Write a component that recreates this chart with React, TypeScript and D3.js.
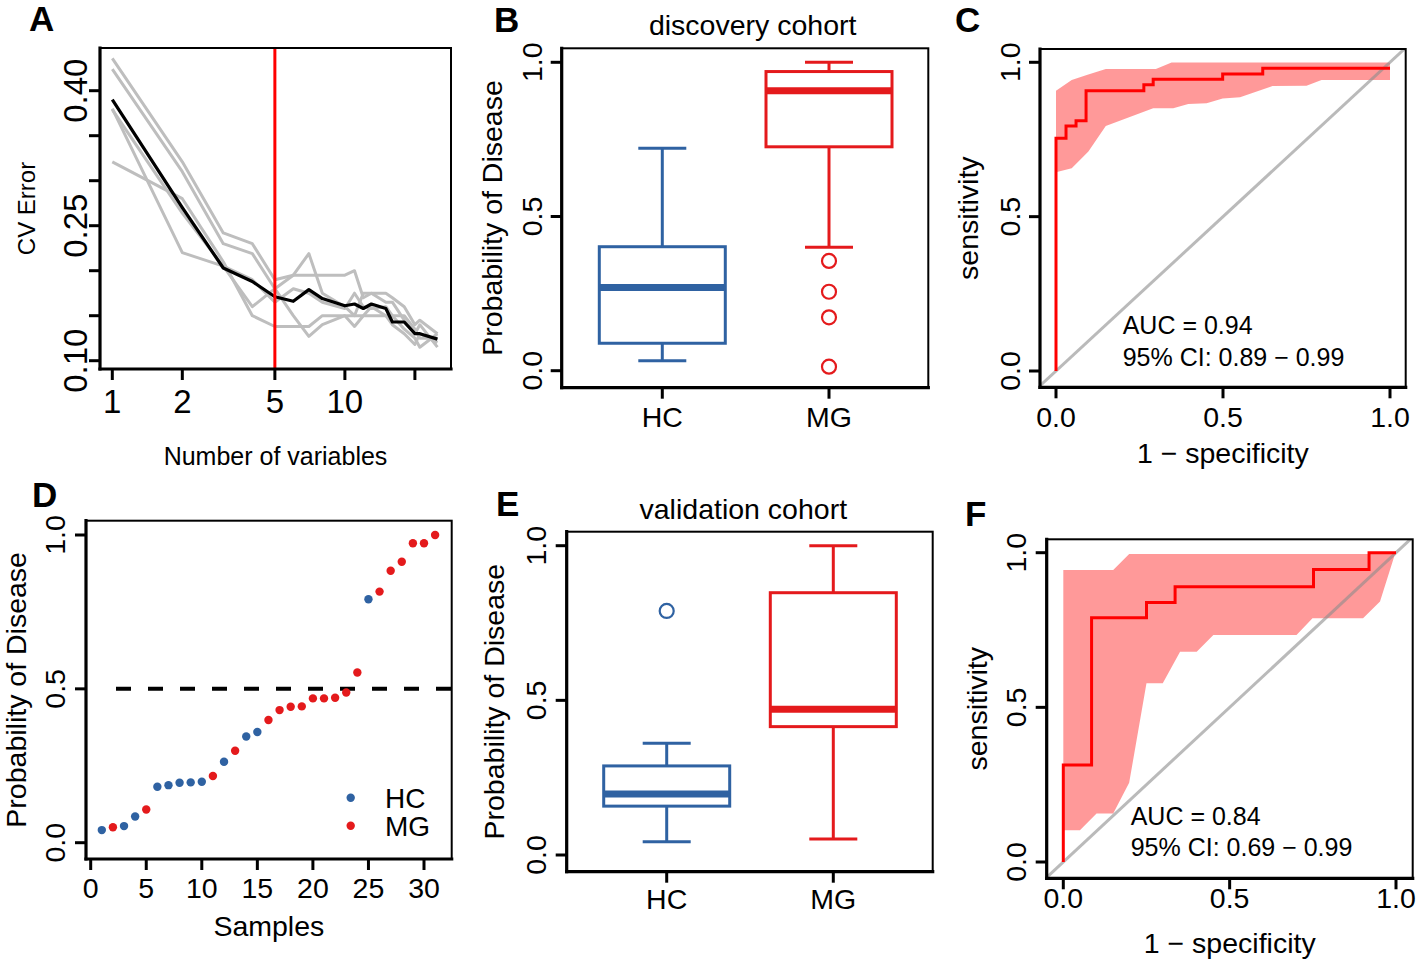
import React from "react";
import * as d3 from "d3";

// ---------- Panel A: CV error vs number of variables ----------
const nVars = [1, 2, 3, 4, 5, 6, 7, 8, 10, 11, 12, 13, 15, 16, 18, 20, 21, 25];
const cvErrorMean = [0.39, 0.27, 0.203, 0.188, 0.171, 0.166, 0.179, 0.169, 0.161, 0.163, 0.158, 0.163, 0.158, 0.143, 0.143, 0.13, 0.13, 0.124];
const cvRep1 = [0.436, 0.321, 0.242, 0.23, 0.19, 0.195, 0.195, 0.195, 0.195, 0.2, 0.17, 0.175, 0.175, 0.17, 0.16, 0.14, 0.145, 0.13];
const cvRep2 = [0.424, 0.31, 0.23, 0.219, 0.18, 0.15, 0.127, 0.14, 0.15, 0.138, 0.15, 0.15, 0.15, 0.15, 0.135, 0.125, 0.115, 0.13];
const cvRep3 = [0.379, 0.264, 0.205, 0.16, 0.18, 0.195, 0.219, 0.175, 0.16, 0.15, 0.175, 0.175, 0.165, 0.165, 0.145, 0.13, 0.14, 0.115];
const cvRep4 = [0.321, 0.28, 0.21, 0.15, 0.138, 0.138, 0.138, 0.15, 0.15, 0.15, 0.15, 0.16, 0.15, 0.14, 0.13, 0.118, 0.13, 0.12];
const cvRep5 = [0.38, 0.22, 0.205, 0.19, 0.165, 0.18, 0.175, 0.165, 0.158, 0.175, 0.16, 0.158, 0.16, 0.15, 0.15, 0.135, 0.125, 0.125];
const selectedVars = 5;
const aYTicks = [0.1, 0.15, 0.2, 0.25, 0.3, 0.35, 0.4];
const aYLabels = ["0.10", "", "", "0.25", "", "", "0.40"];
const aXTicks = [1, 2, 5, 10, 20];
const aXLabels = ["1", "2", "5", "10", ""];

// ---------- Panel B: discovery cohort boxplot ----------
const groups = ["HC", "MG"];
const bLower = [0.032, 0.4];
const bQ1 = [0.089, 0.726];
const bMedian = [0.27, 0.908];
const bQ3 = [0.402, 0.97];
const bUpper = [0.721, 1.0];
const bOutliers = [[], [0.356, 0.256, 0.173, 0.013]];

// ---------- Panel C: discovery ROC ----------
const cFpr = [0, 0, 0.03, 0.06, 0.09, 0.263, 0.291, 0.499, 0.619, 1.0];
const cTpr = [0, 0.754, 0.794, 0.811, 0.908, 0.927, 0.945, 0.962, 0.981, 0.981];
const cCiUpX = [0, 0.047, 0.092, 0.149, 0.299, 0.346, 1.0];
const cCiUpY = [0.908, 0.943, 0.959, 0.978, 0.978, 0.999, 0.999];
const cCiLoX = [0, 0.047, 0.097, 0.149, 0.291, 0.351, 0.396, 0.451, 0.499, 0.551, 0.648, 0.75, 0.795, 1.0];
const cCiLoY = [0.644, 0.657, 0.711, 0.794, 0.851, 0.851, 0.865, 0.867, 0.883, 0.887, 0.923, 0.924, 0.943, 0.943];
const cAuc = "AUC = 0.94";
const cCi = "95% CI: 0.89 \u2212 0.99";

// ---------- Panel D: validation samples ----------
const dProb = [0.041, 0.05, 0.054, 0.085, 0.108, 0.182, 0.187, 0.195, 0.196, 0.198, 0.217, 0.263, 0.299, 0.345, 0.36, 0.399, 0.431, 0.442, 0.443, 0.469, 0.469, 0.471, 0.488, 0.553, 0.791, 0.816, 0.884, 0.913, 0.973, 0.973, 1.0];
const dGroup = ["HC", "MG", "HC", "HC", "MG", "HC", "HC", "HC", "HC", "HC", "MG", "HC", "MG", "HC", "HC", "MG", "MG", "MG", "MG", "MG", "MG", "MG", "MG", "MG", "HC", "MG", "MG", "MG", "MG", "MG", "MG"];
const dXTicks = [0, 5, 10, 15, 20, 25, 30];
const probTicks = [0, 0.5, 1];
const probLabels = ["0.0", "0.5", "1.0"];
const threshold = 0.5;

// ---------- Panel E: validation cohort boxplot ----------
const eLower = [0.043, 0.052];
const eQ1 = [0.158, 0.415];
const eMedian = [0.197, 0.471];
const eQ3 = [0.288, 0.848];
const eUpper = [0.361, 1.0];
const eOutliers = [[0.789], []];

// ---------- Panel F: validation ROC ----------
const fFpr = [0, 0, 0.085, 0.25, 0.336, 0.752, 0.919, 1.0];
const fTpr = [0, 0.314, 0.79, 0.839, 0.89, 0.946, 1.0, 1.0];
const fCiUpX = [0, 0.15, 0.198, 1.0];
const fCiUpY = [0.944, 0.944, 0.996, 0.996];
const fCiLoX = [0, 0.05, 0.1, 0.15, 0.198, 0.25, 0.299, 0.351, 0.401, 0.451, 0.701, 0.749, 0.901, 0.952, 0.997];
const fCiLoY = [0.103, 0.103, 0.157, 0.157, 0.256, 0.578, 0.578, 0.68, 0.68, 0.734, 0.734, 0.788, 0.788, 0.842, 0.996];
const fAuc = "AUC = 0.84";
const fCi = "95% CI: 0.69 \u2212 0.99";

// ---------- styling ----------
const FONT = "'Liberation Sans', Arial, Helvetica, sans-serif";
const BLUE = "#2F62A2";
const RED = "#E41A1C";
const ROCRED = "#FF0000";
const FS = 28.5;
const TICK = 11;

type Box = { x0: number; x1: number; y0: number; y1: number };

function Frame({ b }: { b: Box }) {
  return (
    <g>
      <rect x={b.x0} y={b.y0} width={b.x1 - b.x0} height={b.y1 - b.y0} fill="none" stroke="#000" strokeWidth={2} />
      <line x1={b.x0} x2={b.x0} y1={b.y0} y2={b.y1} stroke="#000" strokeWidth={3.2} strokeLinecap="square" />
      <line x1={b.x0} x2={b.x1} y1={b.y1} y2={b.y1} stroke="#000" strokeWidth={3.2} strokeLinecap="square" />
    </g>
  );
}

function YAxis({ b, scale, ticks, labels, labelX, fs }: any) {
  return (
    <g>
      {ticks.map((t: number, i: number) => (
        <line key={"t" + i} x1={b.x0 - TICK} x2={b.x0} y1={scale(t)} y2={scale(t)} stroke="#000" strokeWidth={3} />
      ))}
      {ticks.map((t: number, i: number) =>
        labels[i] ? (
          <text key={"l" + i} transform={`translate(${labelX},${scale(t)}) rotate(-90)`} textAnchor="middle" fontSize={fs}>
            {labels[i]}
          </text>
        ) : null
      )}
    </g>
  );
}

function XAxis({ b, scale, ticks, labels, labelY, fs }: any) {
  return (
    <g>
      {ticks.map((t: any, i: number) => (
        <line key={"t" + i} x1={scale(t)} x2={scale(t)} y1={b.y1} y2={b.y1 + TICK} stroke="#000" strokeWidth={3} />
      ))}
      {ticks.map((t: any, i: number) =>
        labels[i] ? (
          <text key={"l" + i} x={scale(t)} y={labelY} textAnchor="middle" fontSize={fs}>
            {labels[i]}
          </text>
        ) : null
      )}
    </g>
  );
}

function PanelLetter({ x, y, t }: { x: number; y: number; t: string }) {
  return (
    <text x={x} y={y} fontSize={35} fontWeight="bold">
      {t}
    </text>
  );
}

function BoxPlot({ y, centers, lower, q1, med, q3, upper, outliers, half, capHalf, colors }: any) {
  return (
    <g>
      {groups.map((g, i) => {
        const cx = centers(g);
        const c = colors[i];
        return (
          <g key={g}>
            <line x1={cx} x2={cx} y1={y(upper[i])} y2={y(q3[i])} stroke={c} strokeWidth={3} />
            <line x1={cx} x2={cx} y1={y(q1[i])} y2={y(lower[i])} stroke={c} strokeWidth={3} />
            <line x1={cx - capHalf} x2={cx + capHalf} y1={y(upper[i])} y2={y(upper[i])} stroke={c} strokeWidth={3} />
            <line x1={cx - capHalf} x2={cx + capHalf} y1={y(lower[i])} y2={y(lower[i])} stroke={c} strokeWidth={3} />
            <rect x={cx - half} y={y(q3[i])} width={2 * half} height={y(q1[i]) - y(q3[i])} fill="#fff" stroke={c} strokeWidth={3} />
            <line x1={cx - half} x2={cx + half} y1={y(med[i])} y2={y(med[i])} stroke={c} strokeWidth={7} />
            {outliers[i].map((o: number, j: number) => (
              <circle key={j} cx={cx} cy={y(o)} r={7} fill="none" stroke={c} strokeWidth={2.2} />
            ))}
          </g>
        );
      })}
    </g>
  );
}

function RocPanel({ b, id, x, y, fpr, tpr, upX, upY, loX, loY, auc, ci, textX, textY1, textY2 }: any) {
  const pts: [number, number][] = fpr.map((f: number, i: number) => [x(f), y(tpr[i])]);
  const curve = d3.line().curve(d3.curveStepAfter)(pts) || "";
  const poly: [number, number][] = [
    ...upX.map((v: number, i: number) => [x(v), y(upY[i])] as [number, number]),
    ...loX.map((v: number, i: number) => [x(v), y(loY[i])] as [number, number]).reverse(),
  ];
  const band = d3.line()(poly) + "Z";
  const dLo = x.invert(b.x0) - 0.1;
  const dHi = x.invert(b.x1) + 0.1;
  return (
    <g>
      <defs>
        <clipPath id={id}>
          <rect x={b.x0} y={b.y0} width={b.x1 - b.x0} height={b.y1 - b.y0} />
        </clipPath>
      </defs>
      <g clipPath={`url(#${id})`}>
        <path d={band} fill="#FF0000" fillOpacity={0.4} stroke="none" />
        <line x1={x(dLo)} y1={y(dLo)} x2={x(dHi)} y2={y(dHi)} stroke="#8c8c8c" strokeOpacity={0.6} strokeWidth={3} />
        <path d={curve} fill="none" stroke={ROCRED} strokeWidth={3} />
      </g>
      <text x={textX} y={textY1} fontSize={25}>{auc}</text>
      <text x={textX} y={textY2} fontSize={25}>{ci}</text>
    </g>
  );
}

export default function App() {
  // ----- Panel A -----
  const bA: Box = { x0: 100, x1: 451, y0: 48, y1: 369 };
  const xA = d3.scaleLog().domain([1, 20]).range([112.3, 414.9]);
  const yA = d3.scaleLinear().domain([0.1, 0.4]).range([360.7, 90.7]);
  const lineA = (vals: number[]) =>
    d3.line<number>().x((_, i) => xA(nVars[i])).y((v) => yA(v))(vals) || "";
  const reps = [cvRep1, cvRep2, cvRep3, cvRep4, cvRep5];

  // ----- Panel B -----
  const bB: Box = { x0: 561.7, x1: 928.3, y0: 48.3, y1: 387.7 };
  const yB = d3.scaleLinear().domain([0, 1]).range([370.7, 62.3]);
  const xB = d3.scalePoint().domain(groups).range([662.3, 829]);

  // ----- Panel C -----
  const bC: Box = { x0: 1040, x1: 1405.7, y0: 49, y1: 387.3 };
  const xC = d3.scaleLinear().domain([0, 1]).range([1056, 1390]);
  const yC = d3.scaleLinear().domain([0, 1]).range([371, 62.3]);

  // ----- Panel D -----
  const bD: Box = { x0: 86, x1: 451.7, y0: 520.7, y1: 859 };
  const xD = d3.scaleLinear().domain([0, 30]).range([90.7, 424]);
  const yD = d3.scaleLinear().domain([0, 1]).range([842.7, 535]);

  // ----- Panel E -----
  const bE: Box = { x0: 566.7, x1: 932.7, y0: 531.7, y1: 871.7 };
  const yE = d3.scaleLinear().domain([0, 1]).range([855, 545.7]);
  const xE = d3.scalePoint().domain(groups).range([666.7, 833.3]);

  // ----- Panel F -----
  const bF: Box = { x0: 1046.7, x1: 1412.7, y0: 539.3, y1: 878.3 };
  const xF = d3.scaleLinear().domain([0, 1]).range([1063.3, 1396]);
  const yF = d3.scaleLinear().domain([0, 1]).range([862, 552.7]);

  const rocTicks = [0, 0.5, 1];

  return (
    <svg
      width={1418}
      height={963}
      viewBox="0 0 1418 963"
      style={{ position: "absolute", left: 0, top: 0, background: "#fff" }}
      fontFamily={FONT}
      fill="#000"
    >
      <rect x={0} y={0} width={1418} height={963} fill="#fff" />

      {/* ===== Panel A ===== */}
      <PanelLetter x={29} y={31} t="A" />
      {reps.map((r, i) => (
        <path key={i} d={lineA(r)} fill="none" stroke="#BEBEBE" strokeWidth={3} strokeLinejoin="round" />
      ))}
      <path d={lineA(cvErrorMean)} fill="none" stroke="#000" strokeWidth={3.2} strokeLinejoin="round" />
      <line x1={xA(selectedVars)} x2={xA(selectedVars)} y1={bA.y0} y2={bA.y1} stroke={ROCRED} strokeWidth={3} />
      <Frame b={bA} />
      <YAxis b={bA} scale={yA} ticks={aYTicks} labels={aYLabels} labelX={87} fs={33} />
      <XAxis b={bA} scale={xA} ticks={aXTicks} labels={aXLabels} labelY={413.3} fs={33} />
      <text transform={`translate(35,${(bA.y0 + bA.y1) / 2}) rotate(-90)`} textAnchor="middle" fontSize={24}>
        CV Error
      </text>
      <text x={(bA.x0 + bA.x1) / 2} y={465} textAnchor="middle" fontSize={25}>
        Number of variables
      </text>

      {/* ===== Panel B ===== */}
      <PanelLetter x={494} y={32} t="B" />
      <text x={752.7} y={35} textAnchor="middle" fontSize={FS}>
        discovery cohort
      </text>
      <BoxPlot y={yB} centers={xB} lower={bLower} q1={bQ1} med={bMedian} q3={bQ3} upper={bUpper} outliers={bOutliers} half={63} capHalf={24} colors={[BLUE, RED]} />
      <Frame b={bB} />
      <YAxis b={bB} scale={yB} ticks={probTicks} labels={probLabels} labelX={541.7} fs={FS} />
      <XAxis b={bB} scale={xB} ticks={groups} labels={groups} labelY={426.7} fs={FS} />
      <text transform={`translate(501.7,${(bB.y0 + bB.y1) / 2}) rotate(-90)`} textAnchor="middle" fontSize={FS}>
        Probability of Disease
      </text>

      {/* ===== Panel C ===== */}
      <PanelLetter x={955} y={32} t="C" />
      <RocPanel b={bC} id="clipC" x={xC} y={yC} fpr={cFpr} tpr={cTpr} upX={cCiUpX} upY={cCiUpY} loX={cCiLoX} loY={cCiLoY} auc={cAuc} ci={cCi} textX={1122.7} textY1={334.3} textY2={365.7} />
      <Frame b={bC} />
      <YAxis b={bC} scale={yC} ticks={rocTicks} labels={probLabels} labelX={1020} fs={FS} />
      <XAxis b={bC} scale={xC} ticks={rocTicks} labels={probLabels} labelY={427.3} fs={FS} />
      <text transform={`translate(978,${(bC.y0 + bC.y1) / 2}) rotate(-90)`} textAnchor="middle" fontSize={FS}>
        sensitivity
      </text>
      <text x={(bC.x0 + bC.x1) / 2} y={463.3} textAnchor="middle" fontSize={FS}>
        1 {"\u2212"} specificity
      </text>

      {/* ===== Panel D ===== */}
      <PanelLetter x={32} y={507} t="D" />
      <line x1={bD.x0 + 14} x2={bD.x1} y1={yD(threshold)} y2={yD(threshold)} stroke="#000" strokeWidth={4} strokeDasharray="15 17" strokeDashoffset={16} />
      {dProb.map((p, i) => (
        <circle key={i} cx={xD(i + 1)} cy={yD(p)} r={4.2} fill={dGroup[i] === "HC" ? BLUE : RED} />
      ))}
      {groups.map((g, i) => (
        <g key={g}>
          <circle cx={350.7} cy={797.7 + i * 28} r={4.2} fill={i === 0 ? BLUE : RED} />
          <text x={385} y={808.3 + i * 28} fontSize={28}>{g}</text>
        </g>
      ))}
      <Frame b={bD} />
      <YAxis b={bD} scale={yD} ticks={probTicks} labels={probLabels} labelX={65} fs={FS} />
      <XAxis b={bD} scale={xD} ticks={dXTicks} labels={dXTicks.map(String)} labelY={897.7} fs={FS} />
      <text transform={`translate(26,${(bD.y0 + bD.y1) / 2}) rotate(-90)`} textAnchor="middle" fontSize={FS}>
        Probability of Disease
      </text>
      <text x={(bD.x0 + bD.x1) / 2} y={936} textAnchor="middle" fontSize={FS}>
        Samples
      </text>

      {/* ===== Panel E ===== */}
      <PanelLetter x={496} y={516} t="E" />
      <text x={743.3} y={519} textAnchor="middle" fontSize={FS}>
        validation cohort
      </text>
      <BoxPlot y={yE} centers={xE} lower={eLower} q1={eQ1} med={eMedian} q3={eQ3} upper={eUpper} outliers={eOutliers} half={63} capHalf={24} colors={[BLUE, RED]} />
      <Frame b={bE} />
      <YAxis b={bE} scale={yE} ticks={probTicks} labels={probLabels} labelX={546} fs={FS} />
      <XAxis b={bE} scale={xE} ticks={groups} labels={groups} labelY={909.3} fs={FS} />
      <text transform={`translate(504.3,${(bE.y0 + bE.y1) / 2}) rotate(-90)`} textAnchor="middle" fontSize={FS}>
        Probability of Disease
      </text>

      {/* ===== Panel F ===== */}
      <PanelLetter x={965} y={526} t="F" />
      <RocPanel b={bF} id="clipF" x={xF} y={yF} fpr={fFpr} tpr={fTpr} upX={fCiUpX} upY={fCiUpY} loX={fCiLoX} loY={fCiLoY} auc={fAuc} ci={fCi} textX={1130.7} textY1={825} textY2={855.7} />
      <Frame b={bF} />
      <YAxis b={bF} scale={yF} ticks={rocTicks} labels={probLabels} labelX={1026} fs={FS} />
      <XAxis b={bF} scale={xF} ticks={rocTicks} labels={probLabels} labelY={907.7} fs={FS} />
      <text transform={`translate(986.7,${(bF.y0 + bF.y1) / 2}) rotate(-90)`} textAnchor="middle" fontSize={FS}>
        sensitivity
      </text>
      <text x={(bF.x0 + bF.x1) / 2} y={953} textAnchor="middle" fontSize={FS}>
        1 {"\u2212"} specificity
      </text>
    </svg>
  );
}
